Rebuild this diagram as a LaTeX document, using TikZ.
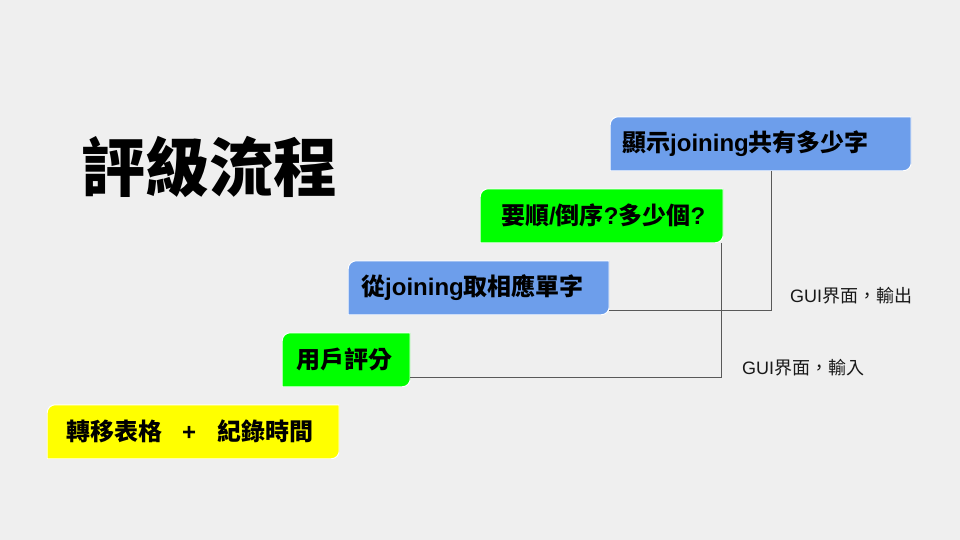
\documentclass[tikz,border=0pt]{standalone}
\usepackage{fontspec}
\setmainfont{Liberation Sans}
\newfontfamily\cjk{Noto Sans CJK TC}
\definecolor{bg}{HTML}{EFEFEF}
\definecolor{sky}{HTML}{6D9EEB}
\definecolor{lime}{HTML}{00FF00}
\definecolor{lemon}{HTML}{FFFF00}
\definecolor{wire}{HTML}{595959}

\begin{document}
\begin{tikzpicture}[x=1pt, y=1pt,
    stepbox/.style={anchor=south west, minimum height=54pt, align=left,
      font=\fontsize{24pt}{28pt}\selectfont\bfseries,
      path picture={\filldraw[fill=#1, draw=white, line width=1pt]
        (path picture bounding box.south west)
        -- ([yshift=-8pt]path picture bounding box.north west)
        arc[start angle=180, end angle=90, radius=8pt]
        -- (path picture bounding box.north east)
        -- ([yshift=8pt]path picture bounding box.south east)
        arc[start angle=0, end angle=-90, radius=8pt] -- cycle;}},
    link/.style={wire, line width=0.9pt},
    note/.style={anchor=west, inner sep=0pt, text=black!90,
      font=\fontsize{18pt}{21pt}\selectfont}]
    \fill [bg] (0,0) rectangle (960,540);
    \useasboundingbox (0,0) rectangle (960,540);
    % title
    \node (title) at (209,373) {\cjk\fontsize{64pt}{72pt}\selectfont\bfseries 評級流程};
    % steps, bottom to top
    \node [stepbox=lemon, inner xsep=19pt, text width=254pt] (move) at (47,81)
      {{\cjk 轉移表格}\hspace{20pt}+\hspace{21pt}{\cjk 紀錄時間}};
    \node [stepbox=lime, inner xsep=14pt, text width=100pt] (rate) at (282,153)
      {\cjk 用戶評分};
    \node [stepbox=sky, inner xsep=13pt, text width=235pt] (pick) at (348,225)
      {{\cjk 從}joining{\cjk 取相應單字}};
    \node [stepbox=lime, inner xsep=21pt, text width=201pt] (order) at (480,297)
      {{\cjk 要順}/{\cjk 倒序}?{\cjk 多少個}?};
    \node [stepbox=sky, inner xsep=12pt, text width=277pt] (show) at (610,369)
      {{\cjk 顯示}joining{\cjk 共有多少字}};
    % gui links
    \coordinate (out) at (771,230);
    \coordinate (in) at (721,163);
    \draw [link] (out |- show.south) -- (out) -- (out -| pick.east);
    \draw [link] (in |- order.south) -- (in) -- (in -| rate.east);
    \node [note] (outtext) at (790,244) {GUI{\cjk 界面，輸出}};
    \node [note] (intext) at (742,172) {GUI{\cjk 界面，輸入}};
\end{tikzpicture}
\end{document}
